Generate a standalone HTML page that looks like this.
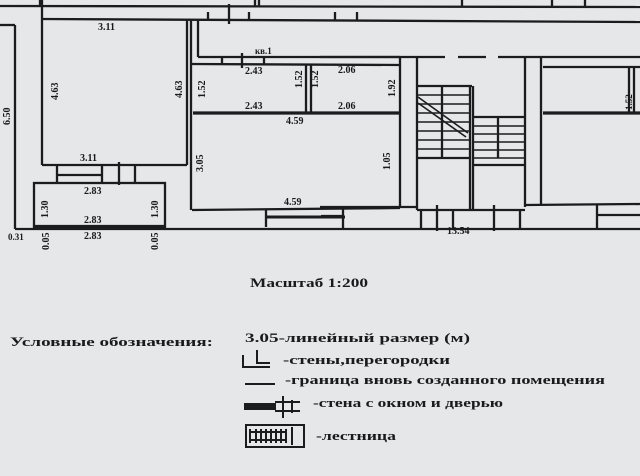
<!DOCTYPE html>
<html><head><meta charset="utf-8"><style>
html,body{margin:0;padding:0;background:#e5e7e9;}
svg{display:block}
text{font-family:"Liberation Serif","DejaVu Serif",serif;font-weight:bold;fill:#1a1a1a;}
</style></head><body>
<svg width="640" height="476" viewBox="0 0 640 476" xmlns="http://www.w3.org/2000/svg">
<rect width="640" height="476" fill="#e5e7e9"/>
<g stroke="#1c1c1c" fill="none" stroke-width="2.3">
<line x1="0" y1="6" x2="640" y2="7"/>
<line x1="42" y1="19" x2="640" y2="22"/>
<line x1="40" y1="0" x2="40" y2="7"/>
<line x1="255" y1="0" x2="255" y2="7"/>
<line x1="259" y1="0" x2="259" y2="7"/>
<line x1="208" y1="12" x2="208" y2="19"/>
<line x1="229" y1="4" x2="229" y2="24"/>
<line x1="249" y1="12" x2="249" y2="19"/>
<line x1="335" y1="12" x2="335" y2="21"/>
<line x1="357" y1="12" x2="357" y2="21"/>
<line x1="462" y1="0" x2="462" y2="7"/>
<line x1="552" y1="0" x2="552" y2="7"/>
<line x1="585" y1="0" x2="585" y2="7"/>
<line x1="42" y1="0" x2="42" y2="165"/>
<line x1="0" y1="25" x2="15" y2="25"/>
<line x1="15" y1="25" x2="15" y2="229"/>
<line x1="42" y1="165" x2="187" y2="165"/>
<line x1="187" y1="20" x2="187" y2="165"/>
<line x1="191" y1="20" x2="191" y2="210"/>
<line x1="57" y1="165" x2="57" y2="183"/>
<line x1="57" y1="175" x2="102" y2="175"/>
<line x1="102" y1="165" x2="102" y2="183"/>
<line x1="119" y1="162" x2="119" y2="185"/>
<line x1="135" y1="165" x2="135" y2="183"/>
<rect x="34" y="183" width="131" height="44"/>
<line x1="34" y1="226" x2="165" y2="226"/>
<line x1="15" y1="229" x2="640" y2="229"/>
<line x1="198" y1="20" x2="198" y2="57"/>
<line x1="198" y1="57" x2="400" y2="57"/>
<line x1="191" y1="64" x2="400" y2="65"/>
<line x1="222" y1="57" x2="222" y2="64"/>
<line x1="242" y1="53" x2="242" y2="68"/>
<line x1="264" y1="57" x2="264" y2="64"/>
<line x1="306" y1="65" x2="306" y2="112"/>
<line x1="311" y1="65" x2="311" y2="112"/>
<line x1="193" y1="113" x2="400" y2="113" stroke-width="3.2"/>
<line x1="192" y1="210" x2="400" y2="208"/>
<line x1="266" y1="210" x2="266" y2="227"/>
<line x1="266" y1="217" x2="345" y2="217" stroke-width="3"/>
<line x1="320" y1="57" x2="445" y2="57"/>
<line x1="458" y1="57" x2="486" y2="57"/>
<line x1="498" y1="57" x2="640" y2="57"/>
<line x1="400" y1="57" x2="400" y2="207"/>
<line x1="417" y1="57" x2="417" y2="210"/>
<line x1="525" y1="57" x2="525" y2="207"/>
<line x1="541" y1="57" x2="541" y2="205"/>
<line x1="320" y1="207" x2="417" y2="207"/>
<line x1="525" y1="205" x2="640" y2="204"/>
<line x1="321" y1="216" x2="343" y2="216"/>
<line x1="343" y1="208" x2="343" y2="229"/>
<line x1="597" y1="205" x2="597" y2="229"/>
<line x1="597" y1="215" x2="640" y2="215"/>
<line x1="417" y1="210" x2="525" y2="210"/>
<line x1="418" y1="86" x2="472" y2="86"/>
<line x1="470" y1="86" x2="470" y2="210"/>
<line x1="473" y1="86" x2="473" y2="210"/>
<line x1="473" y1="117" x2="524" y2="117"/>
<line x1="473" y1="165" x2="524" y2="165"/>
<line x1="418" y1="158" x2="470" y2="158"/>
<line x1="442" y1="86" x2="442" y2="158"/>
<line x1="498" y1="117" x2="498" y2="158"/>
<line x1="421" y1="210" x2="421" y2="229"/>
<line x1="437" y1="205" x2="437" y2="231"/>
<line x1="453" y1="210" x2="453" y2="229"/>
<line x1="494" y1="205" x2="494" y2="231"/>
<line x1="520" y1="210" x2="520" y2="229"/>
<g stroke-width="1.6">
<line x1="418" y1="95" x2="470" y2="95"/><line x1="418" y1="104" x2="470" y2="104"/>
<line x1="418" y1="113" x2="470" y2="113"/><line x1="418" y1="122" x2="470" y2="122"/>
<line x1="418" y1="131" x2="470" y2="131"/><line x1="418" y1="140" x2="470" y2="140"/>
<line x1="418" y1="149" x2="470" y2="149"/>
<line x1="473" y1="126" x2="524" y2="126"/><line x1="473" y1="134" x2="524" y2="134"/>
<line x1="473" y1="142" x2="524" y2="142"/><line x1="473" y1="150" x2="524" y2="150"/>
<line x1="473" y1="158" x2="524" y2="158"/>
<line x1="418" y1="97" x2="468" y2="133"/><line x1="418" y1="103" x2="466" y2="137"/>
</g>
<line x1="543" y1="67" x2="640" y2="67"/>
<line x1="543" y1="113" x2="640" y2="113" stroke-width="3.2"/>
<line x1="629" y1="67" x2="629" y2="113"/>
<line x1="634" y1="67" x2="634" y2="113"/>
</g>
<g font-size="10">
<text x="98" y="30">3.11</text>
<text x="255" y="54" font-size="9">кв.1</text>
<text x="245" y="74">2.43</text>
<text x="245" y="109">2.43</text>
<text x="338" y="73">2.06</text>
<text x="338" y="109">2.06</text>
<text x="286" y="124">4.59</text>
<text x="80" y="161">3.11</text>
<text x="84" y="194">2.83</text>
<text x="84" y="223">2.83</text>
<text x="84" y="239">2.83</text>
<text x="284" y="205">4.59</text>
<text x="447" y="234">13.54</text>
<text x="8" y="240" font-size="9">0.31</text>
<text transform="translate(58,100) rotate(-90)">4.63</text>
<text transform="translate(182,98) rotate(-90)">4.63</text>
<text transform="translate(205,98) rotate(-90)">1.52</text>
<text transform="translate(302,88) rotate(-90)">1.52</text>
<text transform="translate(318,88) rotate(-90)">1.52</text>
<text transform="translate(395,97) rotate(-90)">1.92</text>
<text transform="translate(203,172) rotate(-90)">3.05</text>
<text transform="translate(390,170) rotate(-90)">1.05</text>
<text transform="translate(10,125) rotate(-90)">6.50</text>
<text transform="translate(48,218) rotate(-90)">1.30</text>
<text transform="translate(158,218) rotate(-90)">1.30</text>
<text transform="translate(49,250) rotate(-90)">0.05</text>
<text transform="translate(158,250) rotate(-90)">0.05</text>
<text transform="translate(632,110) rotate(-90)" font-size="9">1.52</text>
</g>
<text x="250" y="287" font-size="13" textLength="118" lengthAdjust="spacingAndGlyphs">Масштаб 1:200</text>
<text x="10" y="346" font-size="13" textLength="203" lengthAdjust="spacingAndGlyphs">Условные обозначения:</text>
<text x="245" y="342" font-size="13" textLength="225" lengthAdjust="spacingAndGlyphs">3.05-линейный размер (м)</text>
<text x="283" y="364" font-size="13" textLength="167" lengthAdjust="spacingAndGlyphs">-стены,перегородки</text>
<text x="285" y="384" font-size="13" textLength="320" lengthAdjust="spacingAndGlyphs">-граница вновь созданного помещения</text>
<text x="313" y="407" font-size="13" textLength="190" lengthAdjust="spacingAndGlyphs">-стена с окном и дверью</text>
<text x="316" y="440" font-size="13" textLength="80" lengthAdjust="spacingAndGlyphs">-лестница</text>
<g stroke="#1c1c1c" fill="none" stroke-width="2">
<path d="M243 355 V367 H270"/><path d="M257 350 V363 H270"/>
<line x1="245" y1="384" x2="275" y2="384"/>
<rect x="245" y="404" width="30" height="5" fill="#1c1c1c"/>
<line x1="275" y1="402" x2="300" y2="402"/><line x1="275" y1="411" x2="300" y2="411"/>
<line x1="283" y1="396" x2="283" y2="418"/><line x1="292" y1="400" x2="292" y2="413"/>
<rect x="246" y="425" width="58" height="22"/>
<line x1="250" y1="429" x2="250" y2="443"/>
<line x1="256" y1="429" x2="256" y2="443"/><line x1="261" y1="429" x2="261" y2="443"/>
<line x1="266" y1="429" x2="266" y2="443"/><line x1="271" y1="429" x2="271" y2="443"/>
<line x1="276" y1="429" x2="276" y2="443"/><line x1="281" y1="429" x2="281" y2="443"/>
<line x1="286" y1="429" x2="286" y2="443"/><line x1="292" y1="427" x2="292" y2="445"/>
<line x1="250" y1="432" x2="286" y2="432"/><line x1="250" y1="440" x2="286" y2="440"/>
</g>
</svg>
</body></html>
